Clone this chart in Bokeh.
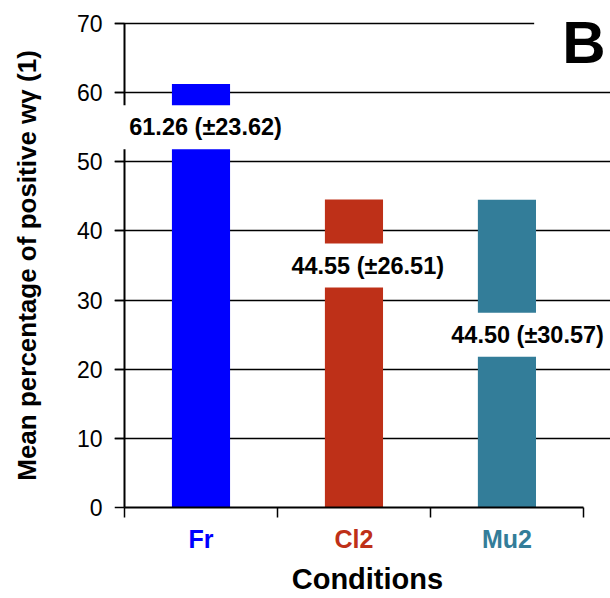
from bokeh.plotting import figure
from bokeh.layouts import column
from bokeh.models import Range1d, FixedTicker, Label, LinearAxis
from bokeh.core.properties import value
from bokeh.embed import file_html
from bokeh.resources import INLINE

# Mean percentage per condition, with standard deviation
conditions = ["Fr", "Cl2", "Mu2"]
means = [61.26, 44.55, 44.50]
sds = [23.62, 26.51, 30.57]
colors = ["#0000FF", "#BE3018", "#337D99"]
# where each value label sits (x in category units, y in axis units)
label_x = [0.53, 1.59, 2.635]
label_y = [55.0, 35.0, 25.0]
y_ticks = [0, 10, 20, 30, 40, 50, 60, 70]

FONT = "Liberation Sans"

x_range = Range1d(-0.0654, 3.177)

p = figure(width=610, height=520, output_backend="svg", toolbar_location=None,
           x_range=x_range, y_range=Range1d(-1.88, 71.88),
           x_axis_type=None, y_axis_location=None,
           min_border_left=114, min_border_right=0, min_border_top=10,
           min_border_bottom=0)
p.outline_line_color = None
p.background_fill_color = "white"
p.border_fill_color = "white"

centers = [i + 0.5 for i in range(len(conditions))]
p.vbar(x=centers, top=means, bottom=0, width=0.38, color=colors, line_color=None)

# y axis labels and title, next to the plot area
ylab = LinearAxis(ticker=FixedTicker(ticks=y_ticks))
ylab.axis_line_color = None
ylab.major_tick_line_color = None
ylab.minor_tick_line_color = None
ylab.major_tick_out = 0
ylab.major_tick_in = 0
ylab.minor_tick_out = 0
ylab.minor_tick_in = 0
ylab.major_label_text_font = FONT
ylab.major_label_text_font_size = "23px"
ylab.major_label_text_color = "black"
ylab.major_label_standoff = 12
ylab.axis_label = "Mean percentage of positive wγ (1)"
ylab.axis_label_text_font = FONT
ylab.axis_label_text_font_size = "26px"
ylab.axis_label_text_font_style = "bold"
ylab.axis_label_text_color = "black"
ylab.axis_label_standoff = 32
p.add_layout(ylab, "left")

# y axis line and ticks, pinned at x = 0 and limited to the value range
yax = LinearAxis(ticker=FixedTicker(ticks=y_ticks, minor_ticks=[]),
                 fixed_location=0, bounds=(0, 70))
yax.axis_line_width = 2
yax.major_tick_line_width = 1.5
yax.major_tick_out = 10
yax.major_tick_in = 0
yax.minor_tick_out = 0
yax.minor_tick_in = 0
yax.major_label_overrides = {t: "" for t in y_ticks}
yax.major_label_text_font_size = "1px"
yax.major_label_standoff = 0
p.add_layout(yax, "left")

# x axis, pinned at y = 0, ticks at the category boundaries pointing down
xax = LinearAxis(ticker=FixedTicker(ticks=[0, 1, 2, 3], minor_ticks=[]),
                 fixed_location=0, bounds=(0, 3))
xax.axis_line_width = 2
xax.major_tick_line_width = 1.5
xax.major_tick_in = 10
xax.major_tick_out = 0
xax.minor_tick_out = 0
xax.minor_tick_in = 0
xax.major_label_overrides = {0: "", 1: "", 2: "", 3: ""}
xax.major_label_text_font_size = "1px"
xax.major_label_standoff = 0
p.add_layout(xax, "above")

p.ygrid.ticker = FixedTicker(ticks=y_ticks[1:])
p.ygrid.grid_line_color = "black"
p.ygrid.grid_line_width = 1.3

# value labels on white boxes
for lx, ly, m, s in zip(label_x, label_y, means, sds):
    p.add_layout(Label(x=lx, y=ly, text=f"{m:.2f} (±{s:.2f})",
                       text_font=FONT, text_font_size="23.5px", text_font_style="bold",
                       text_color="black", text_align="center", text_baseline="middle",
                       background_fill_color="white", border_line_color=None,
                       padding=dict(left=10, right=10, top=9, bottom=9)))

# panel letter
p.add_layout(Label(x=3.177, y=67.25, text="B",
                   text_font=FONT, text_font_size="60px", text_font_style="bold",
                   text_color="black", text_align="right", text_baseline="middle",
                   background_fill_color="white", border_line_color=None,
                   padding=dict(left=28, right=5, top=4, bottom=4)))

# strip under the chart: category names and the axis title, sharing the x scale
q = figure(width=610, height=78, output_backend="svg", toolbar_location=None,
           x_range=x_range, y_range=Range1d(0, 78),
           x_axis_type=None, y_axis_type=None,
           min_border_left=114, min_border_right=0, min_border_top=0,
           min_border_bottom=0)
q.outline_line_color = None
q.background_fill_color = "white"
q.border_fill_color = "white"

q.text(x=centers, y=[59.5] * len(conditions), text=conditions,
       text_font=value(FONT), text_font_size=value("25px"), text_font_style="bold",
       text_color=colors, text_align="center", text_baseline="middle")

q.text(x=[1.588], y=[20], text=["Conditions"],
       text_font=value(FONT), text_font_size=value("29px"), text_font_style="bold",
       text_color="black", text_align="center", text_baseline="middle")

layout = column(p, q, spacing=0)
open("out.html", "w").write(file_html(layout, INLINE))
